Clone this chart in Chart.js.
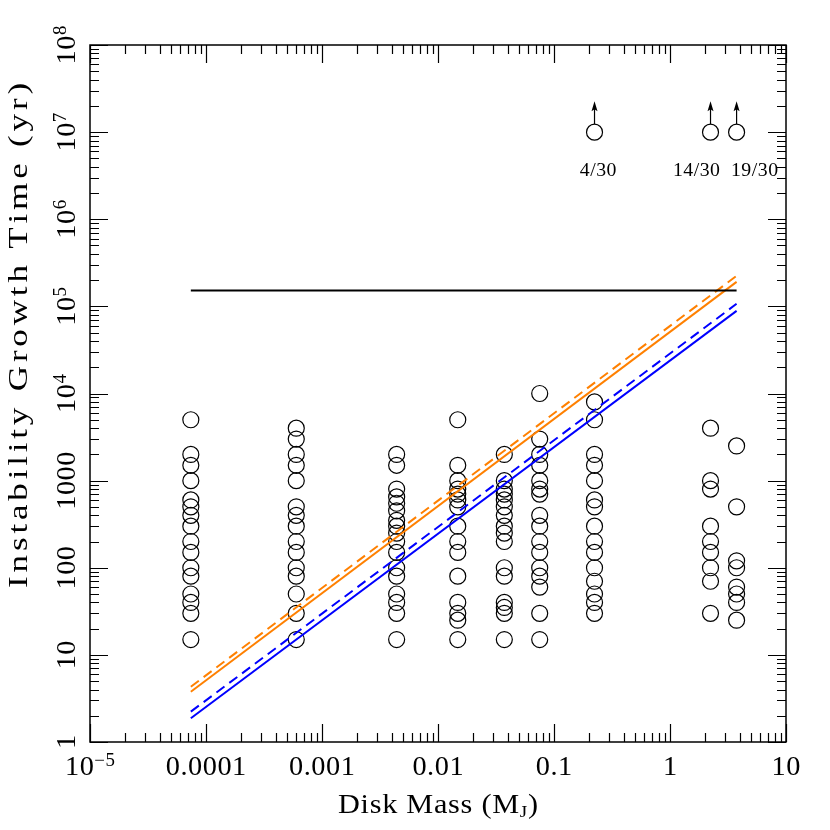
<!DOCTYPE html>
<html><head><meta charset="utf-8">
<script src="https://cdn.jsdelivr.net/npm/chart.js@4/dist/chart.umd.min.js"></script>
<style>html,body{margin:0;padding:0;background:#fff;}canvas{display:block;}</style>
</head><body>
<canvas id="c" width="830" height="830"></canvas>
<script>
// ---------------- data ----------------
const diskMass = [7.4e-5, 6.0e-4, 4.4e-3, 0.0148, 0.0373, 0.0753, 0.2235, 2.235, 3.75];
const growthTimes = [
  [5000, 2000, 1500, 1000, 600, 500, 400, 300, 200, 150, 100, 80, 50, 40, 30, 15],
  [4000, 3000, 2000, 1500, 1000, 500, 400, 300, 200, 150, 100, 80, 50, 30, 15],
  [2000, 1500, 800, 650, 550, 450, 350, 300, 250, 200, 150, 100, 80, 50, 40, 30, 15],
  [5000, 1500, 1000, 800, 700, 600, 500, 300, 200, 150, 80, 40, 30, 25, 15],
  [2000, 1000, 800, 700, 600, 500, 400, 300, 250, 200, 100, 80, 40, 35, 30, 15],
  [10000, 3000, 2000, 1500, 1000, 800, 700, 400, 300, 200, 150, 100, 80, 60, 30, 15],
  [8000, 5000, 2000, 1500, 1000, 600, 500, 300, 200, 150, 100, 70, 50, 40, 30],
  [4000, 1000, 800, 300, 200, 150, 100, 70, 30],
  [2500, 500, 120, 100, 60, 50, 40, 25]
];
const limitMass = [0.2235, 2.235, 3.75];
const limitTime = [1e7, 1e7, 1e7];
const limitLabels = ['4/30', '14/30', '19/30'];
const limitLabelMass = [0.24, 1.69, 5.35];
const limitLabelTime = [3.1e6, 3.1e6, 3.1e6];

const lineMass = [7.4e-5, 3.75];
const thresholdTime = [1.52e5, 1.52e5];
const orangeSolid = [3.78, 1.91e5];
const orangeDashed = [4.31, 2.24e5];
const blueSolid = [1.87, 8.88e4];
const blueDashed = [2.23, 1.07e5];

const xTicks = [1e-5, 1e-4, 1e-3, 1e-2, 0.1, 1, 10];
const xTickLabels = ['10^\u22125', '0.0001', '0.001', '0.01', '0.1', '1', '10'];
const yTicks = [1, 10, 100, 1000, 1e4, 1e5, 1e6, 1e7, 1e8];
const yTickLabels = ['1', '10', '100', '1000', '10^4', '10^5', '10^6', '10^7', '10^8'];
const xTitle = [['Disk Mass (M', 0], ['J', 1], [')', 0]];
const yTitle = 'Instability Growth Time (yr)';

// ---------------- build datasets ----------------
const pts = [];
diskMass.forEach((m, i) => growthTimes[i].forEach(t => pts.push({x: m, y: t})));
const limPts = limitMass.map((m, i) => ({x: m, y: limitTime[i]}));
const seg = (ys) => lineMass.map((m, i) => ({x: m, y: ys[i]}));

const FONT = '"Liberation Serif", "Times New Roman", serif';
const circle = {type: 'scatter', pointStyle: 'circle', pointRadius: 8, pointHoverRadius: 8,
  borderColor: '#000', backgroundColor: 'rgba(0,0,0,0)', borderWidth: 1.2, showLine: false};
const line = (ys, color, dash) => ({type: 'line', data: seg(ys), borderColor: color, borderWidth: 2,
  borderDash: dash || [], pointRadius: 0, fill: false, tension: 0, showLine: true});

// draws text parts char by char with horizontal scale sx and extra spacing sp
function drawParts(ctx, parts, x, y, align, sx, sp) {
  sp = sp || 0;
  let total = 0, n = 0;
  parts.forEach(p => { ctx.font = p.size + 'px ' + FONT; p.w = ctx.measureText(p.t).width * sx; total += p.w; n += p.t.length; });
  total += sp * Math.max(0, n - 1);
  let cx = align === 'center' ? x - total / 2 : (align === 'right' ? x - total : x);
  parts.forEach(p => {
    ctx.font = p.size + 'px ' + FONT;
    ctx.textAlign = 'left'; ctx.textBaseline = 'alphabetic';
    for (const ch of p.t) {
      const w = ctx.measureText(ch).width * sx;
      ctx.save();
      ctx.translate(cx, y + p.dy);
      ctx.scale(sx, 1);
      ctx.fillText(ch, 0, 0);
      ctx.restore();
      cx += w + sp;
    }
  });
  return total;
}
function fitSpacing(ctx, parts, target, sx) {
  let w = 0, n = 0;
  parts.forEach(p => { ctx.font = p.size + 'px ' + FONT; for (const ch of p.t) { w += ctx.measureText(ch).width * sx; n++; } });
  return (target - w) / Math.max(1, n - 1);
}
function labelParts(s, size) {
  const i = s.indexOf('^');
  if (i < 0) return [{t: s, size: size, dy: 0}];
  return [{t: s.slice(0, i), size: size, dy: 0}, {t: s.slice(i + 1), size: 18, dy: -9}];
}

const framePlugin = {
  id: 'frame',
  afterDatasetsDraw(chart) {
    const ctx = chart.ctx, a = chart.chartArea, xs = chart.scales.x, ys = chart.scales.y;
    ctx.save();
    ctx.strokeStyle = '#000'; ctx.fillStyle = '#000';
    ctx.lineWidth = 1.5;
    ctx.strokeRect(a.left, a.top, a.right - a.left, a.bottom - a.top);
    ctx.lineWidth = 1.2;
    const MAJ = 18, MIN = 9;
    for (let d = -5; d <= 1; d++) {
      for (let k = 1; k <= 9; k++) {
        const v = k * Math.pow(10, d);
        if (v > xs.max * 1.0001) break;
        const px = Math.round(xs.getPixelForValue(v)) + 0.5, len = k === 1 ? MAJ : MIN;
        ctx.beginPath();
        ctx.moveTo(px, a.bottom); ctx.lineTo(px, a.bottom - len);
        ctx.moveTo(px, a.top); ctx.lineTo(px, a.top + len);
        ctx.stroke();
      }
    }
    for (let d = 0; d <= 8; d++) {
      for (let k = 1; k <= 9; k++) {
        const v = k * Math.pow(10, d);
        if (v > ys.max * 1.0001) break;
        const py = Math.round(ys.getPixelForValue(v)) + 0.5, len = k === 1 ? MAJ : MIN;
        ctx.beginPath();
        ctx.moveTo(a.left, py); ctx.lineTo(a.left + len, py);
        ctx.moveTo(a.right, py); ctx.lineTo(a.right - len, py);
        ctx.stroke();
      }
    }
    // tick labels
    xTicks.forEach((v, i) => {
      const px = xs.getPixelForValue(v);
      drawParts(ctx, labelParts(xTickLabels[i], 27), px, a.bottom + 33, 'center', 1.05, 0.5);
    });
    yTicks.forEach((v, i) => {
      const py = ys.getPixelForValue(v);
      ctx.save(); ctx.translate(a.left - 15, py); ctx.rotate(-Math.PI / 2);
      drawParts(ctx, labelParts(yTickLabels[i], 27), 0, 0, 'center', 1.05, 0.5);
      ctx.restore();
    });
    // axis titles
    const xt = xTitle.map(p => ({t: p[0], size: p[1] ? 17 : 27, dy: p[1] ? 4 : 0}));
    drawParts(ctx, xt, (a.left + a.right) / 2, 813, 'center', 1.12, fitSpacing(ctx, xt, 200, 1.12));
    const yt = [{t: yTitle, size: 27, dy: 0}];
    ctx.save(); ctx.translate(27, 336); ctx.rotate(-Math.PI / 2);
    drawParts(ctx, yt, 0, 0, 'center', 1.3, fitSpacing(ctx, yt, 505, 1.3));
    ctx.restore();
    // upper-limit arrows and fractions
    limitMass.forEach((m, i) => {
      const px = xs.getPixelForValue(m), py = ys.getPixelForValue(limitTime[i]) - 8;
      const tip = py - 23;
      ctx.lineWidth = 1.2;
      ctx.beginPath(); ctx.moveTo(px, py); ctx.lineTo(px, tip + 6); ctx.stroke();
      ctx.beginPath(); ctx.moveTo(px, tip); ctx.lineTo(px - 3, tip + 10); ctx.lineTo(px, tip + 8); ctx.lineTo(px + 3, tip + 10); ctx.closePath(); ctx.fill();
      drawParts(ctx, [{t: limitLabels[i], size: 18, dy: 0}], xs.getPixelForValue(limitLabelMass[i]),
        ys.getPixelForValue(limitLabelTime[i]), 'center', 1.1, 0.5);
    });
    ctx.restore();
  }
};

new Chart(document.getElementById('c'), {
  data: {
    datasets: [
      line(thresholdTime, '#000000'),
      line(orangeSolid, '#ff8000'),
      line(orangeDashed, '#ff8000', [10, 6]),
      line(blueSolid, '#0000ff'),
      line(blueDashed, '#0000ff', [10, 6]),
      Object.assign({}, circle, {data: pts}),
      Object.assign({}, circle, {data: limPts})
    ]
  },
  options: {
    responsive: false, animation: false, devicePixelRatio: 1,
    layout: {padding: {left: 90, right: 44, top: 45, bottom: 88}},
    plugins: {legend: {display: false}, tooltip: {enabled: false}},
    scales: {
      x: {type: 'logarithmic', min: 1e-5, max: 10, display: false},
      y: {type: 'logarithmic', min: 1, max: 1e8, display: false}
    }
  },
  plugins: [framePlugin]
});
</script>
</body></html>
